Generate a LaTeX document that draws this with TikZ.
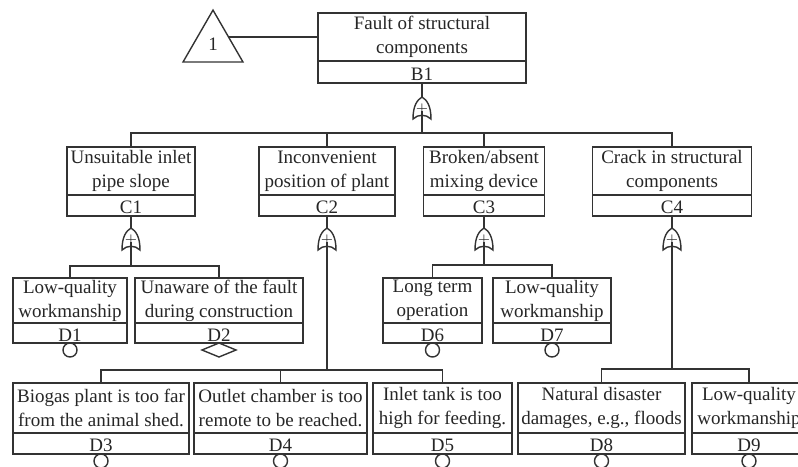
\documentclass[tikz,border=0pt]{standalone}
\usepackage{fontspec}
\setmainfont{Liberation Serif}
\usetikzlibrary{positioning,shapes.geometric}

\begin{document}
\begin{tikzpicture}[x=0.5pt, y=-0.5pt, line width=0.7pt, draw=black!80,
  every node/.style={font=\fontsize{9.5}{12}\selectfont, text=black!85, inner sep=0pt, outer sep=0pt, align=center},
  ev/.style={draw, fill=white, minimum height=#1},
  evid/.style={draw, fill=white, minimum height=#1, text height=8.5pt, text depth=0.5pt},
  basic/.style={draw, circle, minimum size=7pt},
  undev/.style={draw, diamond, minimum width=17pt, minimum height=7pt},
  orgate/.pic={
    \draw[fill=white] (0,-11) .. controls (5,-8) and (9,-2) .. (9,11) .. controls (4,6) and (-4,6) .. (-9,11) .. controls (-9,-2) and (-5,-8) .. (0,-11) -- cycle;
    \node[font=\fontsize{7}{7}\selectfont] (-sym) at (0,1) {$+$};
    \coordinate (-out) at (0,-11); \coordinate (-in) at (0,3);}]
\useasboundingbox (0,0) rectangle (798,466);
% top event and transfer
\node[ev=24pt, minimum width=104pt] (b1) at (422,37) {Fault of structural\\components};
\node[evid=11pt, minimum width=104pt, below=0pt of b1] (b1id) {B1};
\node[draw, regular polygon, regular polygon sides=3, minimum size=34.6pt] (tri) at (213,44.7) {1};
\path (tri.corner 1) -- (tri.corner 3) coordinate[pos=0.52] (trr);
\draw (trr) -- (trr -| b1.west);
% intermediate events
\node[ev=24pt, minimum width=64pt] (c1) at (131,171) {Unsuitable inlet\\pipe slope};
\node[ev=24pt, minimum width=68pt] (c2) at (327,171) {Inconvenient\\position of plant};
\node[ev=24pt, minimum width=60.5pt] (c3) at (484,171) {Broken/absent\\mixing device};
\node[ev=24pt, minimum width=79.5pt] (c4) at (672,171) {Crack in structural\\components};
\node[evid=10.5pt, minimum width=64pt, below=0pt of c1] (c1id) {C1};
\node[evid=10.5pt, minimum width=68pt, below=0pt of c2] (c2id) {C2};
\node[evid=10.5pt, minimum width=60.5pt, below=0pt of c3] (c3id) {C3};
\node[evid=10.5pt, minimum width=79.5pt, below=0pt of c4] (c4id) {C4};
% basic events, upper row
\node[ev=22.5pt, minimum width=57pt] (d1) at (70,300.5) {Low-quality\\workmanship};
\node[ev=22.5pt, minimum width=84pt] (d2) at (219,300.5) {Unaware of the fault\\during construction};
\node[ev=22.5pt, minimum width=49.5pt] (d6) at (432.5,300.5) {Long term\\operation};
\node[ev=22.5pt, minimum width=59pt] (d7) at (552,300.5) {Low-quality\\workmanship};
\node[evid=10pt, minimum width=57pt, below=0pt of d1] (d1id) {D1};
\node[evid=10pt, minimum width=84pt, below=0pt of d2] (d2id) {D2};
\node[evid=10pt, minimum width=49.5pt, below=0pt of d6] (d6id) {D6};
\node[evid=10pt, minimum width=59pt, below=0pt of d7] (d7id) {D7};
% basic events, lower row
\node[ev=25pt, minimum width=88pt] (d3) at (101,408) {Biogas plant is too far\\from the animal shed.};
\node[ev=25pt, minimum width=86.5pt] (d4) at (280.5,408) {Outlet chamber is too\\remote to be reached.};
\node[ev=25pt, minimum width=69.5pt] (d5) at (442.5,408) {Inlet tank is too\\high for feeding.};
\node[ev=25pt, minimum width=83.5pt] (d8) at (601.5,408) {Natural disaster\\damages, e.g., floods};
\node[ev=25pt, minimum width=57pt] (d9) at (749,408) {Low-quality\\workmanship};
\foreach \d/\w/\t in {d3/88pt/D3,d4/86.5pt/D4,d5/69.5pt/D5,d8/83.5pt/D8,d9/57pt/D9}
  \node[evid=10.5pt, minimum width=\w, below=0pt of \d] (\d id) {\t};
% event symbols
\foreach \d in {d1,d3,d4,d5,d6,d7,d8,d9}
  \node[basic, below=0pt of \d id] (\d b) {};
\node[undev, below=0pt of d2id] (d2b) {};
% gates
\pic (gb1) at (422,108) {orgate};
\pic (gc1) at (131,239) {orgate};
\pic (gc2) at (327,239) {orgate};
\pic (gc3) at (484,239) {orgate};
\pic (gc4) at (672,239) {orgate};
\foreach \a/\g in {b1id/gb1,c1id/gc1,c2id/gc2,c3id/gc3,c4id/gc4}
  \draw (\a.south) -- (\g-out);
\coordinate (bb1) at (422,133); \coordinate (bc1) at (131,266); \coordinate (bc2) at (327,370);
\coordinate (bc3) at (484,265); \coordinate (bc4) at (672,369);
\foreach \g/\b/\c in {gb1/bb1/c1,gb1/bb1/c2,gb1/bb1/c3,gb1/bb1/c4,gc1/bc1/d1,gc1/bc1/d2,gc2/bc2/d3,gc2/bc2/d4,gc2/bc2/d5,gc3/bc3/d6,gc3/bc3/d7,gc4/bc4/d8,gc4/bc4/d9}
  \draw (\g-in) -- (\b) -| (\c.north);
\end{tikzpicture}
\end{document}
